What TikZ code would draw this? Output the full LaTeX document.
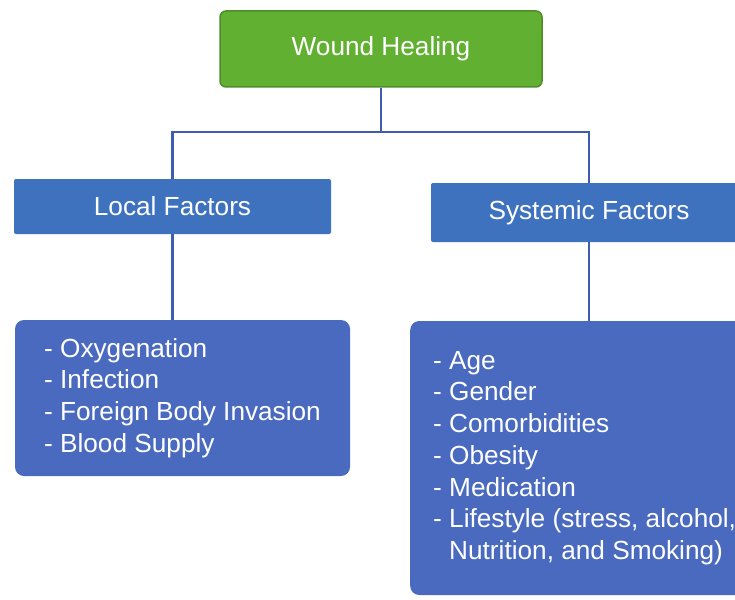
\documentclass[tikz,border=0pt]{standalone}
\usepackage{fontspec}
\setmainfont{Liberation Sans}
\definecolor{rootgreen}{HTML}{62B032}
\definecolor{rootedge}{HTML}{4F8C2A}
\definecolor{headblue}{HTML}{3F72BE}
\definecolor{listblue}{HTML}{4A6ABF}
\definecolor{linkblue}{HTML}{3F5DB0}
\begin{document}
\begin{tikzpicture}[x=1pt, y=-1pt,
    every node/.style={font=\fontsize{26.2}{31.7}\selectfont, text=white},
    rootbox/.style={draw=rootedge, line width=1.5pt, fill=rootgreen, rounded corners=6pt,
      minimum width=322pt, minimum height=76pt, inner sep=0pt},
    headbox/.style={fill=headblue, rounded corners=2pt, inner sep=0pt},
    listbox/.style={fill=listblue, rounded corners=9pt, align=left, inner sep=0pt},
    link/.style={draw=linkblue, line width=2.2pt}]
    \useasboundingbox (0,0) rectangle (735,599);

    % Top of the tree
    \node[rootbox] (root) at (381,49) {Wound Healing};

    % The two groups of factors
    \node[headbox, minimum width=317pt, minimum height=55pt] (local) at (172.5,206.5) {Local Factors};
    \node[headbox, minimum width=316pt, minimum height=59pt] (systemic) at (589,212.5) {Systemic Factors};

    % Lists under each group
    \node[listbox, minimum width=335pt, minimum height=156pt] (locallist) at (182.5,398)
      {- Oxygenation\\- Infection\\- Foreign Body Invasion\\- Blood Supply};
    \node[listbox, anchor=west, inner xsep=23pt, minimum height=274pt] (syslist) at (410,458)
      {- Age\\- Gender\\- Comorbidities\\- Obesity\\- Medication\\
       - Lifestyle (stress, alcohol,\\\phantom{- }Nutrition, and Smoking)};

    % Connectors
    \coordinate (bus) at (0,132);
    \draw[link] (root.south) -- (root.south |- bus) -| (local.north);
    \draw[link] (root.south |- bus) -| (systemic.north);
    \draw[link] (local.south) -- (local.south |- locallist.north);
    \draw[link] (systemic.south) -- (systemic.south |- syslist.north);
  \end{tikzpicture}
\end{document}
